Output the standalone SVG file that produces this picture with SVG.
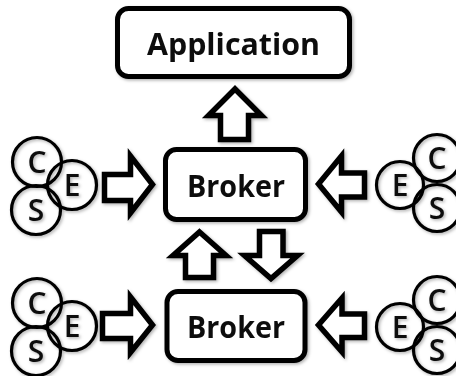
<svg xmlns="http://www.w3.org/2000/svg" width="456" height="376" viewBox="0 0 456 376">
  <style>
    .box { fill: #fff; stroke: #000; stroke-width: 5; }
    .label { font-family: "Open Sans", "Liberation Sans", sans-serif; font-weight: 700; font-size: 31px; fill: #111; text-anchor: middle; }
    .arrow { fill: #fff; stroke: #000; stroke-width: 5.5; stroke-linejoin: miter; }
    .ring { fill: none; stroke: #000; stroke-width: 3.2; }
    .letter { font-family: "Open Sans", "Liberation Sans", sans-serif; font-weight: 600; font-size: 30px; fill: #111; text-anchor: middle; }
  </style>
  <defs>
    <filter id="shade" x="-20%" y="-20%" width="140%" height="140%">
      <feDropShadow dx="1.5" dy="1.5" stdDeviation="1.5" flood-color="#000" flood-opacity="0.3"/>
    </filter>
    <!-- one client cluster: C, E, S rings around the origin (E at 0,0) -->
    <g id="cesLeft">
      <circle class="ring" cx="-35" cy="-23" r="24.5"/>
      <circle class="ring" cx="-36" cy="25" r="24.5"/>
      <circle class="ring" cx="0" cy="0" r="24.5"/>
      <text class="letter" x="-35" y="-12">C</text>
      <text class="letter" x="-36" y="36">S</text>
      <text class="letter" x="0" y="11">E</text>
    </g>
    <g id="cesRight">
      <circle class="ring" cx="37" cy="-27" r="23.5"/>
      <circle class="ring" cx="37" cy="23" r="23.5"/>
      <circle class="ring" cx="0" cy="0" r="23.5"/>
      <text class="letter" x="37" y="-16">C</text>
      <text class="letter" x="37" y="34">S</text>
      <text class="letter" x="0" y="11">E</text>
    </g>
  </defs>

  <rect width="456" height="376" fill="#fff"/>

  <!-- connectors: hollow block arrows -->
  <g id="connectors" filter="url(#shade)">
    <!-- broker to application -->
    <polygon class="arrow" points="235,89 261.5,115.5 248.5,115.5 248.5,139.5 220.5,139.5 220.5,115.5 208.5,115.5"/>
    <!-- lower broker up to upper broker -->
    <polygon class="arrow" points="199.5,232 226,255.5 213.5,255.5 213.5,277.5 185.5,277.5 185.5,255.5 173,255.5"/>
    <!-- upper broker down to lower broker -->
    <polygon class="arrow" points="259.5,231.5 283,231.5 283,255.5 297.5,255.5 271,278.5 244.5,255.5 259.5,255.5"/>
    <!-- clients into upper broker -->
    <polygon class="arrow" points="104.5,174.5 130.5,174.5 130.5,156 152.5,184.5 130.5,213 130.5,200.5 104.5,200.5"/>
    <polygon class="arrow" points="364.5,173 341.5,173 341.5,156 318.5,184 341.5,212 341.5,197 364.5,197"/>
    <!-- clients into lower broker -->
    <polygon class="arrow" points="102.5,313.5 130.5,313.5 130.5,297 152.5,325 130.5,352.5 130.5,338.5 102.5,338.5"/>
    <polygon class="arrow" points="364.5,314 342,314 342,298 318.5,325 342,352 342,337.5 364.5,337.5"/>
  </g>

  <g id="application" filter="url(#shade)">
    <rect class="box" x="117.5" y="8.5" width="232" height="68" rx="11"/>
    <text class="label" x="233.5" y="55" textLength="173" lengthAdjust="spacingAndGlyphs">Application</text>
  </g>

  <g id="broker-upper" filter="url(#shade)">
    <rect class="box" x="165.5" y="149.5" width="140" height="70" rx="11"/>
    <text class="label" x="236" y="197" textLength="98" lengthAdjust="spacingAndGlyphs">Broker</text>
  </g>

  <g id="broker-lower" filter="url(#shade)">
    <rect class="box" x="167" y="291.5" width="138" height="69" rx="11"/>
    <text class="label" x="236" y="338" textLength="98" lengthAdjust="spacingAndGlyphs">Broker</text>
  </g>

  <g id="client-upper-left" filter="url(#shade)">
    <use href="#cesLeft" x="72" y="185"/>
  </g>
  <g id="client-lower-left" filter="url(#shade)">
    <use href="#cesLeft" x="72" y="326"/>
  </g>
  <g id="client-upper-right" filter="url(#shade)">
    <use href="#cesRight" x="400" y="185"/>
  </g>
  <g id="client-lower-right" filter="url(#shade)">
    <use href="#cesRight" x="400" y="327"/>
  </g>
</svg>
